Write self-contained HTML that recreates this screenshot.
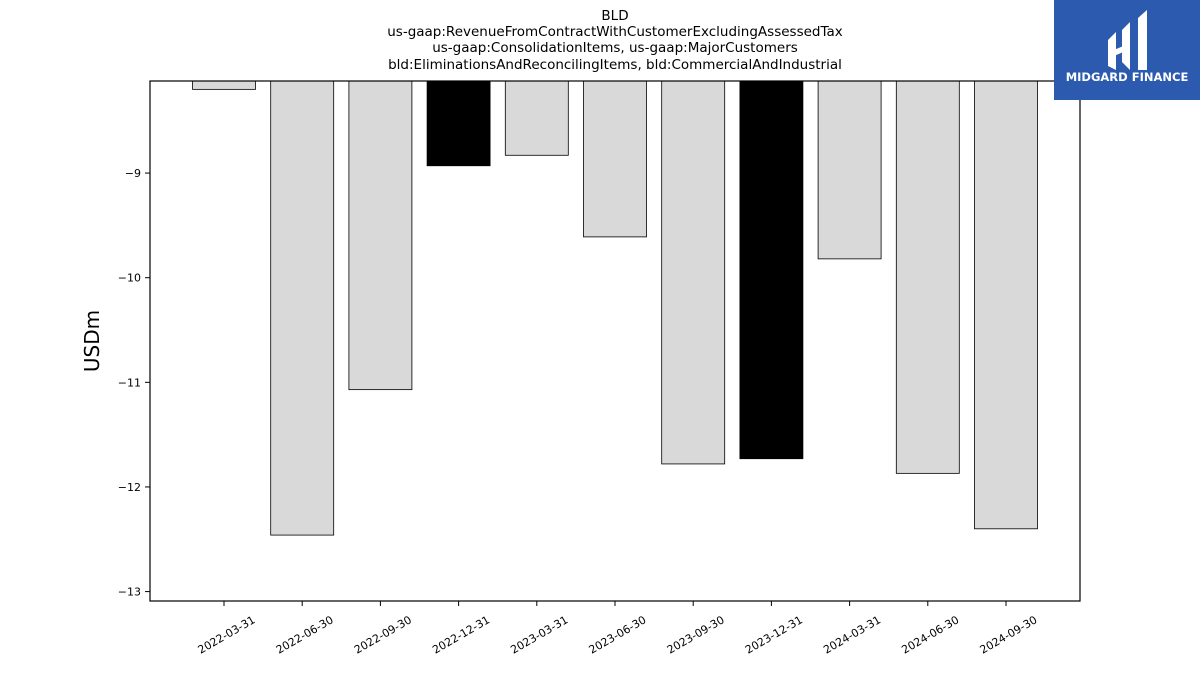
<!DOCTYPE html>
<html><head><meta charset="utf-8"><style>
body{margin:0;background:#fff;width:1200px;height:675px;overflow:hidden;font-family:"Liberation Sans",sans-serif}
</style></head><body>
<svg id="chart" width="1200" height="675" xmlns="http://www.w3.org/2000/svg" font-family="DejaVu Sans, Liberation Sans, sans-serif">
<g font-size="13.5" text-anchor="middle" fill="#000">
<text x="615" y="20">BLD</text>
<text x="615" y="36">us-gaap:RevenueFromContractWithCustomerExcludingAssessedTax</text>
<text x="615" y="52">us-gaap:ConsolidationItems, us-gaap:MajorCustomers</text>
<text x="615" y="69">bld:EliminationsAndReconcilingItems, bld:CommercialAndIndustrial</text>
</g>
<g id="bars"></g>
<rect x="150" y="81" width="930" height="520" fill="none" stroke="#000" stroke-width="1.2"/>
<g id="yaxis"></g><g id="xaxis"></g>
<text x="99" y="341" font-size="20" text-anchor="middle" transform="rotate(-90 99 341)">USDm</text>
<g>
<rect x="1054" y="0" width="146" height="100" fill="#2b5aae"/>
<path d="M1108 40 L1116 32 L1116 70 L1108 66 Z M1122 30 L1130 22 L1130 70 L1122 62 Z M1138 18 L1147 10 L1147 70 L1138 70 Z M1114 50 L1128 44 L1128 50 L1114 56 Z" fill="#fff"/>
<text x="1127" y="81" font-size="11.5" font-weight="bold" fill="#fff" text-anchor="middle">MIDGARD FINANCE</text>
</g>
</svg>
<script>
const categories=["2022-03-31","2022-06-30","2022-09-30","2022-12-31","2023-03-31","2023-06-30","2023-09-30","2023-12-31","2024-03-31","2024-06-30","2024-09-30"];
const values=[-8.20,-12.46,-11.07,-8.93,-8.83,-9.61,-11.78,-11.73,-9.82,-11.87,-12.40];
const highlighted=[false,false,false,true,false,false,false,true,false,false,false];
const yTicks=[-9,-10,-11,-12,-13];
const ns="http://www.w3.org/2000/svg";
const yTop=-8.12,yBot=-13.09,pT=81,pB=601,pL=150,pR=1080;
function y(v){return pT+(yTop-v)/(yTop-yBot)*(pB-pT);}
const step=78.2,x0=224;
function x(i){return x0+i*step;}
const bw=63;
const bars=document.getElementById('bars');
values.forEach((v,i)=>{
 const r=document.createElementNS(ns,'rect');
 
 
 r.setAttribute('x',x(i)-bw/2);r.setAttribute('y',pT);
 r.setAttribute('width',bw);r.setAttribute('height',Math.max(0,y(v)-pT));
 r.setAttribute('fill',highlighted[i]?'#000':'#d9d9d9');
 r.setAttribute('stroke','#000');r.setAttribute('stroke-width','0.8');
 bars.appendChild(r);
});
const ya=document.getElementById('yaxis');
yTicks.forEach(t=>{
 const l=document.createElementNS(ns,'line');
 
 
 l.setAttribute('x1',pL-5);l.setAttribute('x2',pL);l.setAttribute('y1',y(t));l.setAttribute('y2',y(t));l.setAttribute('stroke','#000');
 ya.appendChild(l);
 const tx=document.createElementNS(ns,'text');
 
 
 tx.setAttribute('x',pL-9);tx.setAttribute('y',y(t)+4);tx.setAttribute('font-size','11');tx.setAttribute('text-anchor','end');
 tx.textContent='\u2212'+Math.abs(t);
 ya.appendChild(tx);
});
const xa=document.getElementById('xaxis');
categories.forEach((c,i)=>{
 const l=document.createElementNS(ns,'line');
 
 
 l.setAttribute('x1',x(i));l.setAttribute('x2',x(i));l.setAttribute('y1',pB);l.setAttribute('y2',pB+5);l.setAttribute('stroke','#000');
 xa.appendChild(l);
 const tx=document.createElementNS(ns,'text');
 
 
 const ax=x(i)+32,ay=pB+21;
 tx.setAttribute('x',ax);tx.setAttribute('y',ay);tx.setAttribute('font-size','11');tx.setAttribute('text-anchor','end');
 tx.setAttribute('transform','rotate(-30 '+ax+' '+ay+')');
 tx.textContent=c;
 xa.appendChild(tx);
});
</script>
</body></html>
